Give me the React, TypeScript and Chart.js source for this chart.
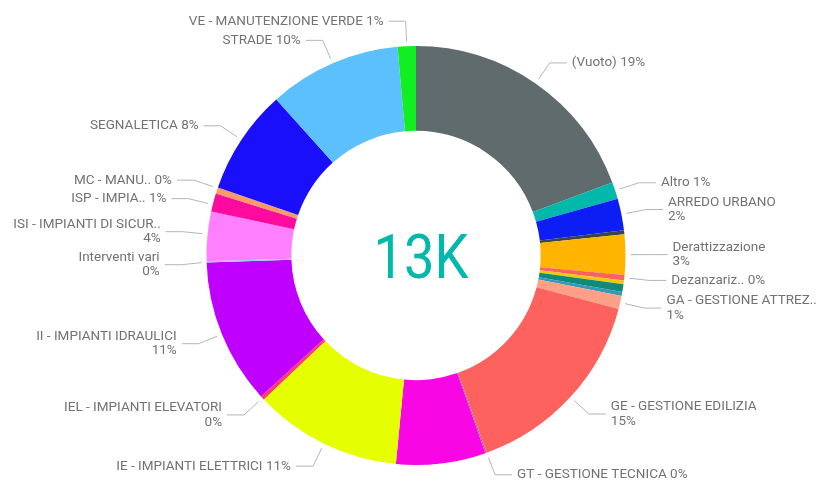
import React, { useEffect, useRef } from 'react';
import { Chart, registerables } from 'chart.js';

Chart.register(...registerables);

// Categories in drawing order (clockwise from 12 o'clock)
const categories: string[] = [
  '(Vuoto)',
  'Altro',
  'ARREDO URBANO',
  'Non etichettata 1',
  'Derattizzazione',
  'Dezanzariz..',
  'Non etichettata 2',
  'Non etichettata 3',
  'Non etichettata 4',
  'GA - GESTIONE ATTREZ..',
  'GE - GESTIONE EDILIZIA',
  'GT - GESTIONE TECNICA',
  'Non etichettata 5',
  'IE - IMPIANTI ELETTRICI',
  'IEL - IMPIANTI ELEVATORI',
  'II - IMPIANTI IDRAULICI',
  'Interventi vari',
  'ISI - IMPIANTI DI SICUR..',
  'ISP - IMPIA..',
  'MC - MANU..',
  'SEGNALETICA',
  'STRADE',
  'VE - MANUTENZIONE VERDE',
];

// Counts per category
const values: number[] = [
  2490, 168, 316, 39, 400, 52, 39, 77, 39, 129, 1987, 13, 890, 1471, 39, 1445, 13, 490, 181, 63, 1045,
  1316, 181,
];

const sliceColors: string[] = [
  '#5F6B6D',
  '#01B8AA',
  '#0D1EF5',
  '#374649',
  '#FFB400',
  '#FD625E',
  '#F2C80F',
  '#108B79',
  '#3599B8',
  '#FEA088',
  '#FD625E',
  '#A66999',
  '#F806E4',
  '#E6FF00',
  '#FF3B6B',
  '#C000FF',
  '#8AD4EB',
  '#FF80FF',
  '#FF0A9E',
  '#FF9966',
  '#1A0FFA',
  '#5CC0FC',
  '#11EE22',
];

// Which slices carry an outside label, and which labels break before the percentage
const showLabel: boolean[] = [
  true, true, true, false, true, true, false, false, false, true, true, true, false, true, true, true,
  true, true, true, true, true, true, true,
];
const wrapLabel: boolean[] = [
  false, false, true, false, true, false, false, false, false, true, true, false, false, false, true,
  true, true, true, false, false, false, false, false,
];

const LABEL_FONT = '13.5px Roboto, "DejaVu Sans", sans-serif';
const LABEL_COLOR = '#727272';
const LINE_COLOR = '#b4b4b4';
const CENTER_COLOR = '#01B8AA';

const total = values.reduce((a, b) => a + b, 0);

const labelsPlugin = {
  id: 'pbiLabels',
  afterDatasetsDraw(chart: any) {
    const meta = chart.getDatasetMeta(0);
    const arcs = meta.data;
    if (!arcs.length) return;
    const ctx = chart.ctx as CanvasRenderingContext2D;
    const p0 = arcs[0].getProps(['x', 'y', 'outerRadius'], true);
    const cx = p0.x;
    const cy = p0.y;
    const R = p0.outerRadius;
    const Re = R + 25;
    const lineH = 14.5;
    const H = chart.height;

    type Item = {
      i: number;
      side: number;
      y: number;
      h: number;
      lines: string[];
      start: number;
      end: number;
    };
    const items: Item[] = [];
    arcs.forEach((arc: any, i: number) => {
      if (!showLabel[i]) return;
      const { startAngle, endAngle } = arc.getProps(['startAngle', 'endAngle'], true);
      const mid = (startAngle + endAngle) / 2;
      const side = Math.cos(mid) >= 0 ? 1 : -1;
      const pct = Math.round((values[i] / total) * 100) + '%';
      const lines = wrapLabel[i] ? [categories[i], pct] : [categories[i] + ' ' + pct];
      items.push({
        i,
        side,
        y: cy + Re * Math.sin(mid),
        h: lines.length * lineH + 4,
        lines,
        start: startAngle,
        end: endAngle,
      });
    });

    [1, -1].forEach((side) => {
      const group = items.filter((it) => it.side === side).sort((a, b) => a.y - b.y);
      for (let iter = 0; iter < 200; iter++) {
        let moved = false;
        for (let k = 0; k < group.length - 1; k++) {
          const a = group[k];
          const b = group[k + 1];
          const need = (a.h + b.h) / 2;
          const d = b.y - a.y;
          if (d < need - 0.01) {
            const o = (need - d) / 2;
            a.y -= o;
            b.y += o;
            moved = true;
          }
        }
        group.forEach((g) => {
          const lo = 6 + g.h / 2 - 2;
          const hi = H - 6 - g.h / 2 + 2;
          if (g.y < lo) g.y = lo;
          if (g.y > hi) g.y = hi;
        });
        if (!moved) break;
      }
    });

    ctx.save();
    ctx.font = LABEL_FONT;
    ctx.textBaseline = 'middle';
    items.forEach((it) => {
      const s = Math.max(-1, Math.min(1, (it.y - cy) / Re));
      let phi = it.side === 1 ? Math.asin(s) : Math.PI - Math.asin(s);
      const twoPi = Math.PI * 2;
      while (phi < it.start - Math.PI) phi += twoPi;
      while (phi > it.end + Math.PI) phi -= twoPi;
      const phiC = Math.max(it.start, Math.min(it.end, phi));
      const ax = cx + (R + 5) * Math.cos(phiC);
      const ay = cy + (R + 5) * Math.sin(phiC);
      const ex = cx + Re * Math.cos(phiC);
      const ey = it.y;
      const hx = ex + it.side * 17;
      ctx.strokeStyle = LINE_COLOR;
      ctx.lineWidth = 1;
      ctx.beginPath();
      ctx.moveTo(ax, ay);
      ctx.lineTo(ex, ey);
      ctx.lineTo(hx, ey);
      ctx.stroke();
      ctx.fillStyle = LABEL_COLOR;
      ctx.textAlign = it.side === 1 ? 'left' : 'right';
      const tx = hx + it.side * 5;
      const n = it.lines.length;
      it.lines.forEach((t, k) => {
        ctx.fillText(t, tx, it.y - ((n - 1) * lineH) / 2 + k * lineH);
      });
    });

    // centre value
    const txt = Math.round(total / 1000) + 'K';
    ctx.font = '400 61px Roboto, sans-serif';
    ctx.fillStyle = CENTER_COLOR;
    ctx.textAlign = 'center';
    ctx.textBaseline = 'alphabetic';
    const w = ctx.measureText(txt).width;
    const sx = Math.min(1, 95 / w);
    ctx.translate(cx + 5, cy + 22);
    ctx.scale(sx, 1);
    ctx.fillText(txt, 0, 0);
    ctx.restore();
  },
};

export default function App() {
  const ref = useRef<HTMLCanvasElement | null>(null);

  useEffect(() => {
    if (!ref.current) return;
    const chart = new Chart(ref.current, {
      type: 'doughnut',
      data: {
        labels: categories,
        datasets: [
          {
            data: values,
            backgroundColor: sliceColors,
            borderWidth: 0,
            hoverOffset: 0,
            offset: 0,
          },
        ],
      },
      options: {
        responsive: false,
        animation: false,
        cutout: '59.5%',
        layout: { padding: { top: 46, bottom: 23, left: 11, right: 0 } },
        plugins: {
          legend: { display: false },
          tooltip: { enabled: false },
        },
      },
      plugins: [labelsPlugin],
    });
    return () => chart.destroy();
  }, []);

  return (
    <div style={{ position: 'fixed', left: 0, top: 0, width: 821, height: 488, background: '#ffffff' }}>
      <canvas ref={ref} width={821} height={488} style={{ display: 'block', width: 821, height: 488 }} />
    </div>
  );
}
